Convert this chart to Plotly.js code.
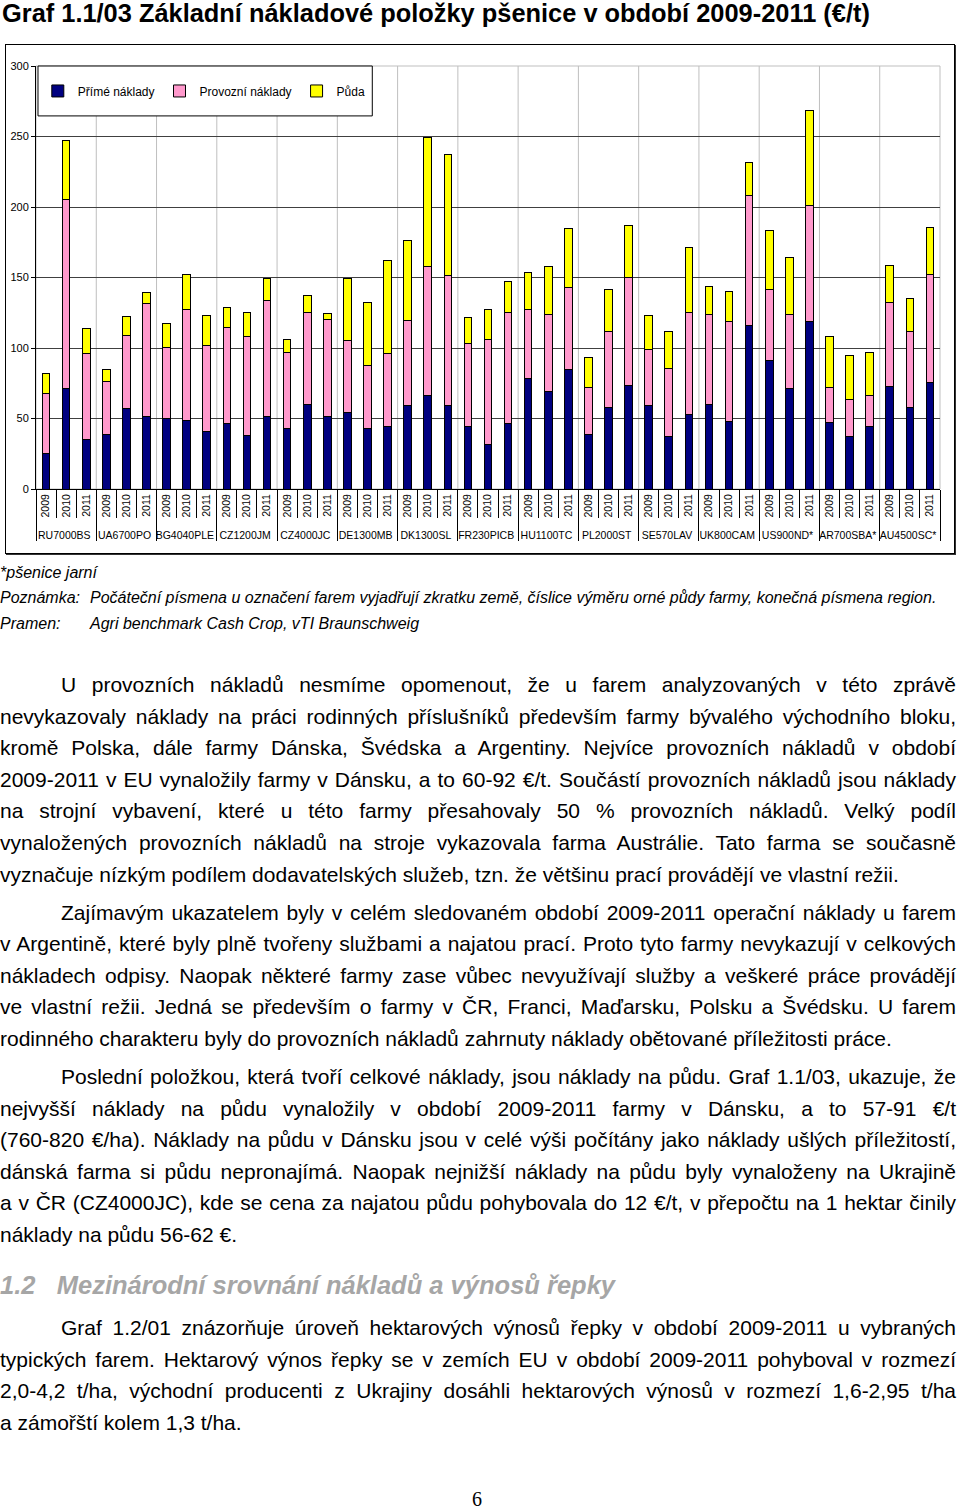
<!DOCTYPE html>
<html>
<head>
<meta charset="utf-8">
<script src="https://cdn.plot.ly/plotly-3.0.1.min.js"></script>
<style>
  html, body { margin: 0; padding: 0; background: #fff; width: 960px; height: 1511px; overflow: hidden; }
  body { position: relative; font-family: "Liberation Sans", Arial, sans-serif; color: #000; }
  #title { position: absolute; left: 2px; top: 0px; font-size: 25.4px; font-weight: bold; line-height: 27px; white-space: nowrap; }
  #frame { position: absolute; left: 5px; top: 44px; width: 948px; height: 508px; border: 1px solid #000; box-shadow: 1px 1px 0 #333; }
  #chart { width: 948px; height: 508px; }
  .notes { position: absolute; left: 0; font-size: 16px; font-style: italic; line-height: 20px; white-space: nowrap; }
  .notes span { display: inline-block; width: 90px; }
  #text { position: absolute; left: 0; top: 669px; width: 956px; font-size: 21px; line-height: 31.6px; }
  .j { text-align: justify; text-align-last: justify; white-space: nowrap; }
  .l { text-align: left; white-space: nowrap; }
  .ind { text-indent: 61px; }
  .gap { margin-top: 6.4px; }
  .tight { word-spacing: -1px; }
  #head { position: absolute; left: 0; top: 1271px; font-size: 25.5px; font-weight: bold; font-style: italic; color: #a6a6a6; white-space: nowrap; }
  #text2 { position: absolute; left: 0; top: 1312px; width: 956px; font-size: 21px; line-height: 31.6px; }
  #pg { position: absolute; left: 472px; top: 1488px; font-family: "Liberation Serif", serif; font-size: 20px; }
</style>
</head>
<body>
<div id="title">Graf 1.1/03 Základní nákladové položky pšenice v období 2009-2011 (€/t)</div>
<div id="frame"><div id="chart"></div></div>
<div class="notes" style="top:563px">*pšenice jarní</div>
<div class="notes" style="top:588px"><span>Poznámka:</span>Počáteční písmena u označení farem vyjadřují zkratku země, číslice výměru orné půdy farmy, konečná písmena region.</div>
<div class="notes" style="top:614px"><span>Pramen:</span>Agri benchmark Cash Crop, vTI Braunschweig</div>

<div id="text">
  <div class="j ind">U provozních nákladů nesmíme opomenout, že u farem analyzovaných v této zprávě</div>
  <div class="j">nevykazovaly náklady na práci rodinných příslušníků především farmy bývalého východního bloku,</div>
  <div class="j">kromě Polska, dále farmy Dánska, Švédska a Argentiny. Nejvíce provozních nákladů v období</div>
  <div class="j tight">2009-2011 v EU vynaložily farmy v Dánsku, a to 60-92 €/t. Součástí provozních nákladů jsou náklady</div>
  <div class="j">na strojní vybavení, které u této farmy přesahovaly 50 % provozních nákladů. Velký podíl</div>
  <div class="j">vynaložených provozních nákladů na stroje vykazovala farma Austrálie. Tato farma se současně</div>
  <div class="l">vyznačuje nízkým podílem dodavatelských služeb, tzn. že většinu prací provádějí ve vlastní režii.</div>
  <div class="j ind gap">Zajímavým ukazatelem byly v celém sledovaném období 2009-2011 operační náklady u farem</div>
  <div class="j tight">v Argentině, které byly plně tvořeny službami a najatou prací. Proto tyto farmy nevykazují v celkových</div>
  <div class="j">nákladech odpisy. Naopak některé farmy zase vůbec nevyužívají služby a veškeré práce provádějí</div>
  <div class="j">ve vlastní režii. Jedná se především o farmy v ČR, Franci, Maďarsku, Polsku a Švédsku. U farem</div>
  <div class="l">rodinného charakteru byly do provozních nákladů zahrnuty náklady obětované příležitosti práce.</div>
  <div class="j ind gap">Poslední položkou, která tvoří celkové náklady, jsou náklady na půdu. Graf 1.1/03, ukazuje, že</div>
  <div class="j">nejvyšší náklady na půdu vynaložily v období 2009-2011 farmy v Dánsku, a to 57-91 €/t</div>
  <div class="j tight">(760-820 €/ha). Náklady na půdu v Dánsku jsou v celé výši počítány jako náklady ušlých příležitostí,</div>
  <div class="j">dánská farma si půdu nepronajímá. Naopak nejnižší náklady na půdu byly vynaloženy na Ukrajině</div>
  <div class="j tight">a v ČR (CZ4000JC), kde se cena za najatou půdu pohybovala do 12 €/t, v přepočtu na 1 hektar činily</div>
  <div class="l">náklady na půdu 56-62 €.</div>
</div>
<div id="head">1.2&nbsp;&nbsp;&nbsp;Mezinárodní srovnání nákladů a výnosů řepky</div>
<div id="text2">
  <div class="j ind">Graf 1.2/01 znázorňuje úroveň hektarových výnosů řepky v období 2009-2011 u vybraných</div>
  <div class="j">typických farem. Hektarový výnos řepky se v zemích EU v období 2009-2011 pohyboval v rozmezí</div>
  <div class="j">2,0-4,2 t/ha, východní producenti z Ukrajiny dosáhli hektarových výnosů v rozmezí 1,6-2,95 t/ha</div>
  <div class="l">a zámořští kolem 1,3 t/ha.</div>
</div>
<div id="pg">6</div>

<script>
// farms and years on the x axis
var farms = ['RU7000BS', 'UA6700PO', 'BG4040PLE', 'CZ1200JM', 'CZ4000JC', 'DE1300MB', 'DK1300SL',
             'FR230PICB', 'HU1100TC', 'PL2000ST', 'SE570LAV', 'UK800CAM', 'US900ND*', 'AR700SBA*', 'AU4500SC*'];
var years = ['2009', '2010', '2011'];

// €/t, three values (2009, 2010, 2011) per farm
var prime = [25, 71, 35,   39, 57, 51.5,   50, 48.5, 41,   46.5, 38, 51.5,   43, 60, 51.5,
             54.5, 43, 44,   59.5, 66, 59.5,   44, 31.5, 46.5,   78.5, 69.5, 84.5,   39, 57.5, 73.5,
             59, 37, 52.5,   60, 48, 116,   91, 71, 118.5,   47, 37.5, 44,   72.5, 58, 75.5];
var provozni = [43, 134, 61,   37, 52, 80,   50.5, 79, 60.5,   68, 70.5, 82,   54, 65, 69,
                51, 44.5, 52,   60, 92, 92,   59.5, 74.5, 79,   49, 54.5, 58.5,   33, 54.5, 76.5,
                40, 48.5, 73,   63.5, 71, 92,   50.5, 53, 82.5,   25, 26, 22.5,   59.5, 53.5, 76.5];
var puda = [14, 42, 18,   9, 13, 8,   17, 24.5, 21.5,   14.5, 17, 15.5,   9, 12, 4,
            43.5, 44.5, 66,   57, 91, 85.5,   18, 21, 22,   26, 33.5, 42,   21.5, 29.5, 37,
            24, 26, 45.5,   20, 21, 23.5,   42, 40.5, 67.5,   36, 31.5, 30,   26.5, 23.5, 33.5];

var seriesNames = ['Přímé náklady', 'Provozní náklady', 'Půda'];
var colors = ['#000080', '#ff99cc', '#ffff00'];

var xFarm = [], xYear = [];
for (var i = 0; i < farms.length; i++) {
  for (var j = 0; j < years.length; j++) {
    xFarm.push(farms[i]);
    xYear.push(years[j]);
  }
}

var values = [prime, provozni, puda];
var data = [];
for (var k = 0; k < values.length; k++) {
  data.push({
    type: 'bar',
    x: [xFarm, xYear],
    y: values[k],
    name: seriesNames[k],
    marker: {color: colors[k], line: {color: '#000', width: 1}},
    hoverinfo: 'y+name'
  });
}

// light grey lines between farms, plus a grey border round the plot area
var shapes = [{type: 'rect', xref: 'paper', yref: 'paper', x0: 0, x1: 1, y0: 0, y1: 1,
               line: {color: '#bfbfbf', width: 1}, layer: 'below'}];
var nBars = farms.length * years.length;
for (var g = 1; g < farms.length; g++) {
  var xp = g * years.length / nBars;
  shapes.push({type: 'line', xref: 'paper', yref: 'paper', x0: xp, x1: xp, y0: 0, y1: 1,
               line: {color: '#bfbfbf', width: 1}, layer: 'below'});
}
// legend box
shapes.push({type: 'rect', xref: 'paper', yref: 'paper', x0: 0.0022, x1: 0.372, y0: 0.882, y1: 1,
             fillcolor: '#fff', line: {color: '#000', width: 1}, layer: 'above'});

var layout = {
  barmode: 'stack',
  bargap: 0.62,
  showlegend: true,
  legend: {orientation: 'h', traceorder: 'normal', x: 0.002, y: 0.941, xanchor: 'left', yanchor: 'middle',
           bgcolor: 'rgba(0,0,0,0)', borderwidth: 0,
           font: {family: 'Liberation Sans, Arial, sans-serif', size: 12, color: '#000'}},
  font: {family: 'Liberation Sans, Arial, sans-serif', size: 11, color: '#000'},
  paper_bgcolor: '#fff',
  plot_bgcolor: '#fff',
  margin: {l: 30, r: 14, t: 21, b: 64, pad: 0},
  xaxis: {
    type: 'multicategory',
    tickangle: -90,
    ticks: 'outside', ticklen: 28, tickcolor: '#000',
    showline: true, linecolor: '#000', linewidth: 1,
    showgrid: false,
    showdividers: true, dividercolor: '#000', dividerwidth: 1,
    tickfont: {size: 10.5}
  },
  yaxis: {
    range: [0, 300], dtick: 50,
    ticks: 'outside', ticklen: 4, tickcolor: '#000',
    showline: true, linecolor: '#000', linewidth: 1,
    gridcolor: '#404040', gridwidth: 1,
    zeroline: false,
    tickfont: {size: 11}
  },
  shapes: shapes
};

Plotly.newPlot('chart', data, layout, {displayModeBar: false, staticPlot: true});
</script>
</body>
</html>
